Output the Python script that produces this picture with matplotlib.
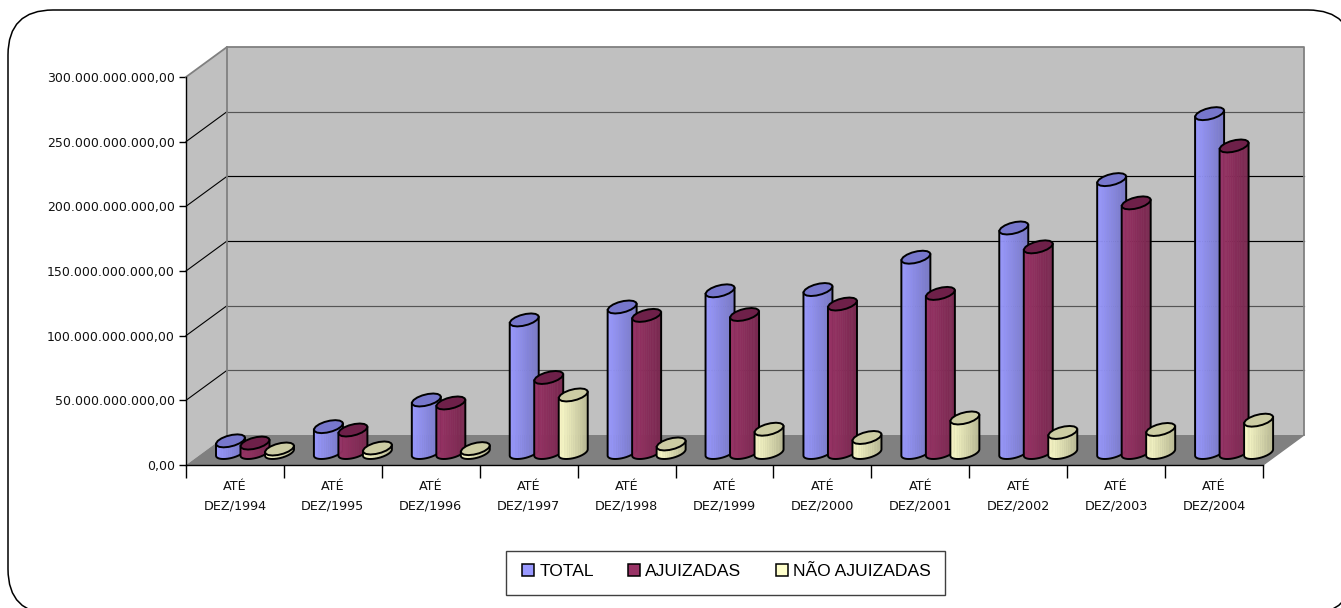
import numpy as np
import matplotlib
matplotlib.use("Agg")
import matplotlib.pyplot as plt
from matplotlib.collections import PolyCollection
from matplotlib.colors import to_rgb
from matplotlib.patches import FancyBboxPatch, Patch, Polygon, Rectangle

# Amounts in billions of reais
years = ["1994", "1995", "1996", "1997", "1998", "1999", "2000", "2001", "2002", "2003", "2004"]
total = [9, 20, 40.6, 102.5, 112.5, 125, 126, 151, 173.6, 211, 262]
ajuizadas = [7.3, 17.4, 38.3, 58, 106, 106.7, 114.8, 123, 159, 193, 237]
nao_ajuizadas = [2.7, 3.5, 3, 44.5, 6.6, 18, 11.6, 26.7, 15.5, 17.8, 25]
y_ticks = [0, 50, 100, 150, 200, 250, 300]
y_tick_labels = ["0,00", "50.000.000.000,00", "100.000.000.000,00", "150.000.000.000,00",
                 "200.000.000.000,00", "250.000.000.000,00", "300.000.000.000,00"]
series_names = ["TOTAL", "AJUIZADAS", "NÃO AJUIZADAS"]
series_light = ["#9999FF", "#993366", "#FFFFCC"]
series_dark = ["#7878C4", "#78284F", "#B9B994"]
series_top = ["#7777CC", "#6E2049", "#CCCCA3"]

W, H = 1341, 608
LEFT, RIGHT, BOTTOM, TOP = 186, 1263, 465, 77
PX_X = (RIGHT - LEFT) / 11
PX_Y = (BOTTOM - TOP) / 300
DEPTH_X, DEPTH_Y = 41 / PX_X, 30 / PX_Y


def px_rect(l, t, r, b):
    return [l / W, 1 - b / H, (r - l) / W, (b - t) / H]


fig = plt.figure(figsize=(W / 100, H / 100), dpi=100, facecolor="white")

# Rounded outer frame, running off the right and bottom edges
back = fig.add_axes([0, 0, 1, 1], zorder=0)
back.set_xlim(0, W)
back.set_ylim(H, 0)
back.axis("off")
back.add_patch(FancyBboxPatch((8 + 45, 10 + 45), 1345 - 90, 604 - 90,
                              boxstyle="round,pad=45,rounding_size=45",
                              fc="white", ec="black", lw=1.1, clip_on=True))
# Legend box
back.add_patch(Rectangle((506, 551), 439, 44, fc="white", ec="#404040", lw=1.0))

ax = fig.add_axes(px_rect(LEFT, TOP, RIGHT, BOTTOM), zorder=1)
ax.set_xlim(0, 11)
ax.set_ylim(0, 300)
ax.patch.set_visible(False)
for side in ("top", "right"):
    ax.spines[side].set_visible(False)
for side in ("left", "bottom"):
    ax.spines[side].set_color("black")
    ax.spines[side].set_linewidth(1.0)
    ax.spines[side].set_zorder(6)


def poly(points, **kw):
    ax.add_patch(Polygon(points, closed=True, clip_on=False, **kw))


# Walls and floor of the oblique box
D = (DEPTH_X, DEPTH_Y)
poly([(0, 0), (D[0], D[1]), (D[0], 300 + D[1]), (0, 300)], fc="#C0C0C0", ec="none", zorder=1)
poly([(D[0], D[1]), (11 + D[0], D[1]), (11 + D[0], 300 + D[1]), (D[0], 300 + D[1])],
     fc="#C0C0C0", ec="none", zorder=1)
poly([(0, 0), (11, 0), (11 + D[0], D[1]), (D[0], D[1])], fc="#808080", ec="none", zorder=2)

grid_colors = {50: "#555555", 100: "#555555", 150: "black", 200: "black", 250: "#555555"}
for v, c in grid_colors.items():
    ax.plot([D[0], 11 + D[0]], [v + D[1]] * 2, color=c, lw=0.85, clip_on=False, zorder=1.5)
    ax.plot([0, D[0]], [v, v + D[1]], color="black", lw=0.8, clip_on=False, zorder=1.5)
edge = dict(color="#808080", lw=1.3, clip_on=False, zorder=1.6)
ax.plot([0, D[0], 11 + D[0], 11 + D[0]], [300, 300 + D[1], 300 + D[1], D[1]], **edge)
ax.plot([D[0], D[0]], [D[1], 300 + D[1]], **edge)
ax.plot([11, 11 + D[0]], [0, D[1]], color="#808080", lw=1.0, clip_on=False, zorder=2.1)

# Cylinder footprint, in axis units
RX = 12.7 / PX_X
DX = 7.0 / PX_X
DY = 6.5 / PX_Y
ALPHA = np.arctan2(DX, RX)
BASE_Y = 12.5 / PX_Y
FIRST_X = 44.5 / PX_X
STEP_X = 24.5 / PX_X


def ring(cx, cy, t):
    return cx + RX * np.cos(t) + DX * np.sin(t), cy + DY * np.sin(t)


def cylinder(cx, value, light, dark, top, z):
    t = np.linspace(np.pi + ALPHA, 2 * np.pi + ALPHA, 25)
    xb, yb = ring(cx, BASE_Y, t)
    yt = yb + value
    span = (xb - xb[0]) / (xb[-1] - xb[0])
    c0, c1 = np.array(to_rgb(light)), np.array(to_rgb(dark))
    cells, colors = [], []
    for i in range(len(t) - 1):
        cells.append([(xb[i], yb[i]), (xb[i + 1], yb[i + 1]), (xb[i + 1], yt[i + 1]), (xb[i], yt[i])])
        colors.append(c0 + (c1 - c0) * (span[i] + span[i + 1]) / 2)
    ax.add_collection(PolyCollection(cells, facecolors=colors, edgecolors=colors, linewidths=0.4,
                                     clip_on=False, zorder=z))
    # Silhouette of the side, then the lid on top of it
    sx = np.concatenate([[xb[0]], xb, [xb[-1]]])
    sy = np.concatenate([[yt[0]], yb, [yt[-1]]])
    ax.plot(sx, sy, color="black", lw=1.4, solid_joinstyle="round", clip_on=False, zorder=z + 0.01)
    tt = np.linspace(0, 2 * np.pi, 17)
    xl, yl = ring(cx, BASE_Y + value, tt)
    poly(np.column_stack([xl, yl]), fc=top, ec="black", lw=1.4, joinstyle="round", zorder=z + 0.02)


z = 3.0
for g in range(len(years)):
    for s, values in enumerate((total, ajuizadas, nao_ajuizadas)):
        cylinder(g + FIRST_X + s * STEP_X, values[g], series_light[s], series_dark[s], series_top[s], z)
        z += 0.1

ax.set_yticks(y_ticks)
ax.set_yticklabels(y_tick_labels, fontsize=9, family="DejaVu Sans", color="#111111")
ax.tick_params(axis="y", length=5, width=1.0, pad=3)
ax.set_xticks(range(12))
ax.set_xticklabels([])
ax.tick_params(axis="x", which="major", length=9, width=1.0)
ax.set_xticks(np.arange(11) + 0.5, minor=True)
ax.set_xticklabels([f"ATÉ\nDEZ/{y}" for y in years], minor=True, fontsize=9.2,
                   family="DejaVu Sans", linespacing=1.72, color="#111111")
ax.tick_params(axis="x", which="minor", length=0, pad=10.5)

handles = [Patch(fc=c, ec="black", lw=1.1) for c in series_light]
leg = fig.legend(handles, series_names, ncol=3, loc="center",
                 bbox_to_anchor=(726.5 / W, 1 - 571.5 / H), frameon=False,
                 prop={"family": "Liberation Sans", "size": 12.6},
                 handlelength=0.68, handleheight=0.68, handletextpad=0.3, columnspacing=1.95,
                 borderpad=0, borderaxespad=0)
leg.set_zorder(10)

fig.savefig("out.png", dpi=100)
